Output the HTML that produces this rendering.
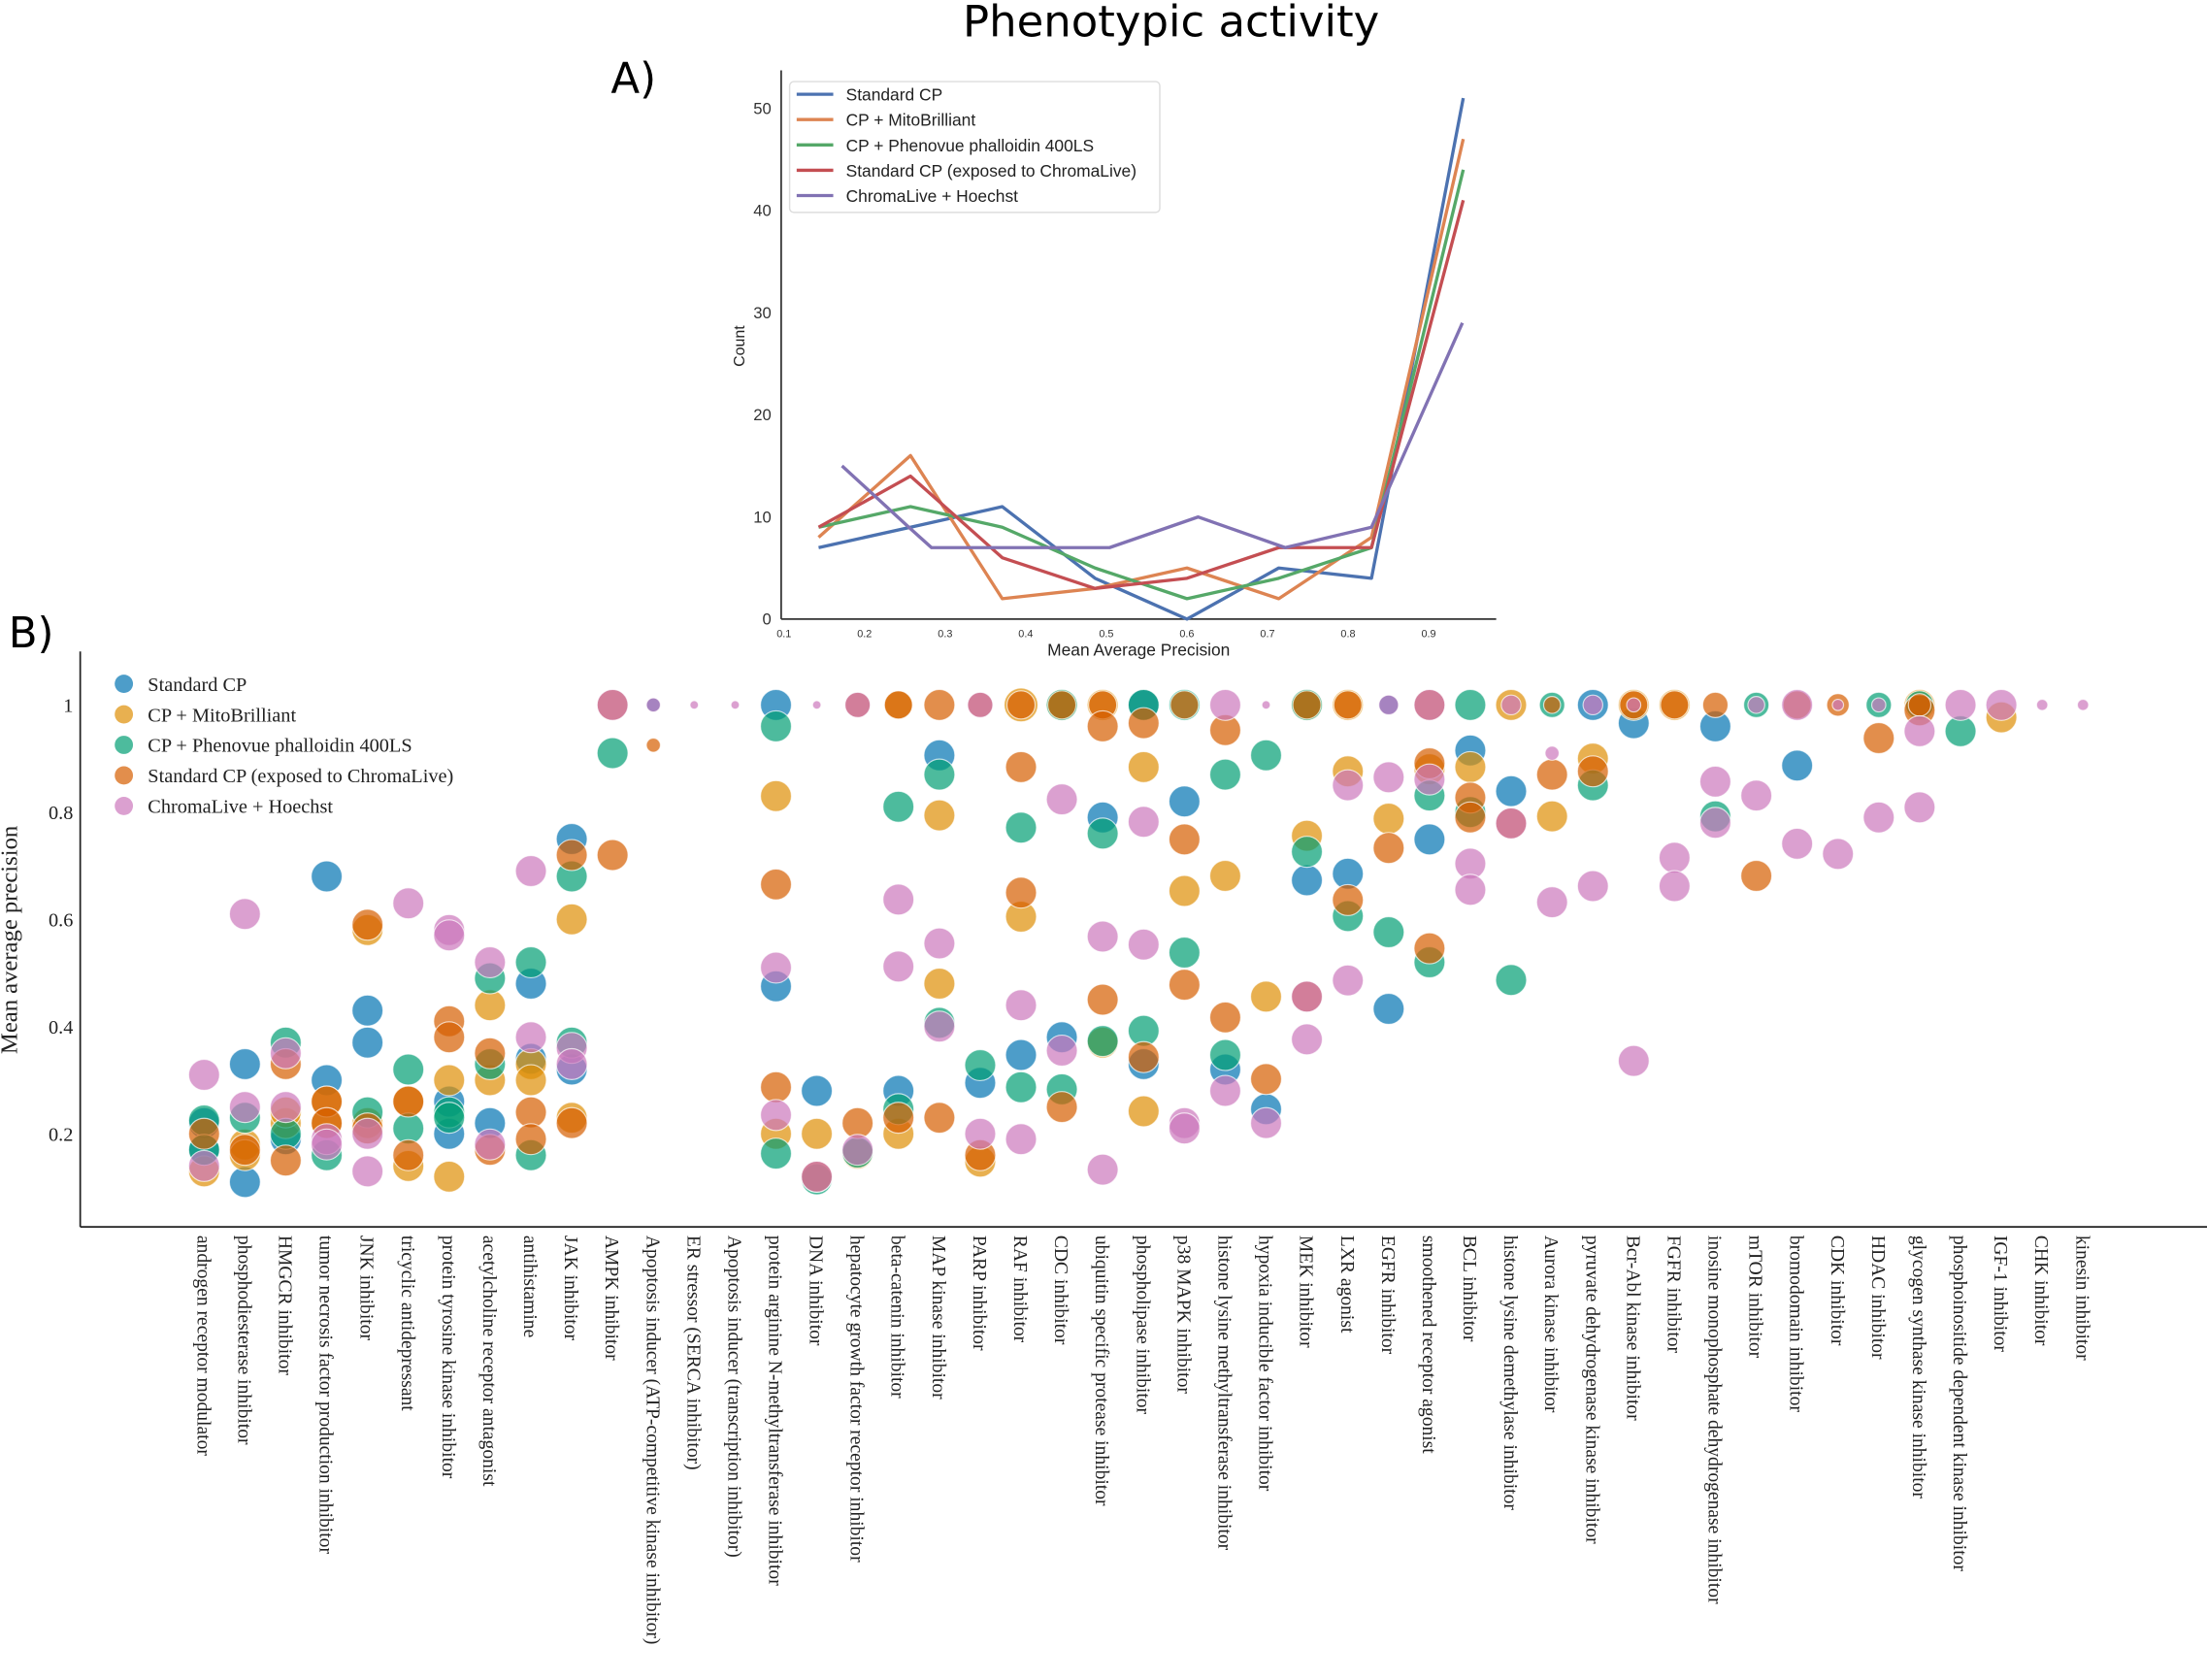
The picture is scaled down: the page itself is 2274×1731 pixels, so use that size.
<!DOCTYPE html>
<html><head><meta charset="utf-8"><style>
html,body{margin:0;padding:0;background:#fff}
svg{display:block}
</style></head><body>
<svg id="fig" xmlns="http://www.w3.org/2000/svg" width="2274" height="1731" viewBox="0 0 1568 1194" preserveAspectRatio="none">
<text x="832" y="26" text-anchor="middle" font-family="DejaVu Sans, sans-serif" font-size="31">Phenotypic activity</text>
<text x="434" y="66" font-family="DejaVu Sans, sans-serif" font-size="30">A)</text>
<text x="6" y="460" font-family="DejaVu Sans, sans-serif" font-size="30">B)</text>
<g id="lineChart"></g>
<g id="scatterChart"></g>
</svg>
<script>
// ---------- Panel A data ----------
const binCenters = [0.143, 0.257, 0.371, 0.486, 0.6, 0.714, 0.829, 0.943];
const purpleX = [0.172, 0.255, 0.283, 0.504, 0.614, 0.722, 0.829, 0.942];
const countStandard = [7, 9, 11, 4, 0, 5, 4, 51];
const countMito = [8, 16, 2, 3, 5, 2, 8, 47];
const countPhenovue = [9, 11, 9, 5, 2, 4, 7, 44];
const countExposed = [9, 14, 6, 3, 4, 7, 7, 41];
const countChroma = [15, 9, 7, 7, 10, 7, 9, 29];
const lineNames = ["Standard CP", "CP + MitoBrilliant", "CP + Phenovue phalloidin 400LS", "Standard CP (exposed to ChromaLive)", "ChromaLive + Hoechst"];
const lineColors = ["#4c72b0", "#dd8452", "#55a868", "#c44e52", "#8172b3"];
const aYTicks = [0, 10, 20, 30, 40, 50];
const aXTicks = [0.1, 0.2, 0.3, 0.4, 0.5, 0.6, 0.7, 0.8, 0.9];

// ---------- Panel B data ----------
const categories = ["androgen receptor modulator","phosphodiesterase inhibitor","HMGCR inhibitor","tumor necrosis factor production inhibitor","JNK inhibitor","tricyclic antidepressant","protein tyrosine kinase inhibitor","acetylcholine receptor antagonist","antihistamine","JAK inhibitor","AMPK inhibitor","Apoptosis inducer (ATP-competitive kinase inhibitor)","ER stressor (SERCA inhibitor)","Apoptosis inducer (transcription inhibitor)","protein arginine N-methyltransferase inhibitor","DNA inhibitor","hepatocyte growth factor receptor inhibitor","beta-catenin inhibitor","MAP kinase inhibitor","PARP inhibitor","RAF inhibitor","CDC inhibitor","ubiquitin specific protease inhibitor","phospholipase inhibitor","p38 MAPK inhibitor","histone lysine methyltransferase inhibitor","hypoxia inducible factor inhibitor","MEK inhibitor","LXR agonist","EGFR inhibitor","smoothened receptor agonist","BCL inhibitor","histone lysine demethylase inhibitor","Aurora kinase inhibitor","pyruvate dehydrogenase kinase inhibitor","Bcr-Abl kinase inhibitor","FGFR inhibitor","inosine monophosphate dehydrogenase inhibitor","mTOR inhibitor","bromodomain inhibitor","CDK inhibitor","HDAC inhibitor","glycogen synthase kinase inhibitor","phosphoinositide dependent kinase inhibitor","IGF-1 inhibitor","CHK inhibitor","kinesin inhibitor"];
// [categoryIndex, meanAveragePrecision, markerSize]
const pointsStandard = [[0,0.22],[0,0.17],[1,0.33],[1,0.11],[2,0.19],[3,0.68],[3,0.3],[4,0.43],[4,0.37],[6,0.26],[6,0.2],[7,0.22],[8,0.48],[8,0.34],[9,0.75],[9,0.32],[11,1,5],[14,1,11],[14,0.475],[15,0.28],[17,0.28],[18,0.906],[19,0.295],[20,0.347],[21,0.38],[22,0.79],[23,1,11],[23,0.33],[24,0.82],[25,0.32],[26,0.246],[27,0.673],[28,0.685],[29,1,7],[29,0.433],[30,0.749],[31,0.915],[32,0.839],[34,1,11],[35,0.966],[37,0.96],[39,0.887]];
const pointsMito = [[0,0.13],[1,0.18],[1,0.16],[2,0.22],[2,0.24],[3,0.26],[3,0.22],[4,0.58],[4,0.22],[5,0.26],[5,0.14],[6,0.3],[6,0.12],[7,0.44],[7,0.3],[8,0.33],[8,0.3],[9,0.6],[9,0.23],[14,0.83],[14,0.2],[15,0.2],[16,0.163],[17,1,10],[17,0.2],[18,0.794],[18,0.48],[19,0.148],[20,1,12],[20,0.605],[21,1,11],[22,1,11],[22,0.37],[23,0.884],[23,0.242],[24,0.653],[25,0.681],[26,0.456],[27,1,11],[27,0.756],[28,1,11],[28,0.876],[29,0.788],[30,0.88],[31,0.884],[32,1,11],[33,0.792],[34,0.9],[35,1,11],[36,1,11],[42,1,11],[44,0.977]];
const pointsPhenovue = [[0,0.225],[0,0.17],[1,0.23],[2,0.37],[2,0.2],[3,0.16],[4,0.24],[5,0.32],[5,0.21],[6,0.24],[6,0.23],[7,0.49],[7,0.33],[8,0.52],[8,0.16],[9,0.68],[9,0.37],[10,0.91],[14,0.96],[14,0.163],[15,0.115],[16,0.165],[17,0.81],[17,0.246],[18,0.87],[18,0.407],[19,0.328],[20,0.771],[20,0.287],[21,1,11],[21,0.283],[22,0.76],[22,0.373],[23,1,11],[23,0.392],[24,1,11],[24,0.538],[25,0.87],[25,0.347],[26,0.906],[27,1,11],[27,0.726],[28,0.606],[29,0.576],[30,0.831],[30,0.52],[31,1,11],[31,0.8],[32,0.487],[33,1,9],[34,0.85],[37,0.792],[38,1,9],[41,1,9],[42,1,10],[43,0.951]];
const pointsExposed = [[0,0.2],[1,0.17],[2,0.33],[2,0.15],[3,0.26],[3,0.22],[4,0.59],[4,0.21],[5,0.26],[5,0.16],[6,0.41],[6,0.38],[7,0.35],[7,0.17],[8,0.24],[8,0.19],[9,0.72],[9,0.22],[10,1,11],[10,0.72],[11,0.925,5],[14,0.665],[14,0.287],[15,0.12],[16,1,9],[16,0.22],[17,1,10],[17,0.23],[18,1,11],[18,0.23],[19,1,9],[19,0.16],[20,1,10],[20,0.884],[20,0.65],[21,1,10],[21,0.25],[22,1,10],[22,0.96],[22,0.45],[23,0.966],[23,0.343],[24,1,10],[24,0.749],[24,0.478],[25,0.953],[25,0.417],[26,0.302],[27,1,10],[27,0.456],[28,1,10],[28,0.636],[29,0.733],[30,1,11],[30,0.891],[30,0.546],[31,0.827],[31,0.79],[32,0.779],[33,1,6],[33,0.87],[34,0.876],[35,1,10],[36,1,10],[37,1,9],[38,0.681],[39,1,10],[40,1,8],[41,0.938],[42,0.99],[42,1,8]];
const pointsChroma = [[0,0.31],[0,0.14],[1,0.61],[1,0.25],[2,0.35],[2,0.25],[3,0.19],[3,0.18],[4,0.2],[4,0.13],[5,0.63],[6,0.58],[6,0.57],[7,0.52],[7,0.18],[8,0.69],[8,0.38],[9,0.36],[9,0.33],[10,1,11],[11,1,5],[12,1,3],[13,1,3],[14,0.51],[14,0.235],[15,1,3],[15,0.12],[16,1,9],[16,0.17],[17,0.637],[17,0.512],[18,0.555],[18,0.4],[19,1,9],[19,0.2],[20,0.44],[20,0.19],[21,0.824],[21,0.355],[22,0.568],[22,0.133],[23,0.782],[23,0.553],[24,0.22],[24,0.21],[25,1,11],[25,0.28],[26,1,3],[26,0.22],[27,0.456],[27,0.376],[28,0.85],[28,0.486],[29,1,7],[29,0.865],[30,1,11],[30,0.861],[31,0.704],[31,0.655],[32,1,7],[32,0.779],[33,0.91,5],[33,0.632],[34,1,7],[34,0.662],[35,1,5],[35,0.336],[36,0.715],[36,0.662],[37,0.857],[37,0.78],[38,1,6],[38,0.831],[39,1,11],[39,0.741],[40,1,4],[40,0.722],[41,1,5],[41,0.79],[42,0.951],[42,0.809],[43,1,11],[44,1,11],[45,1,4],[46,1,4]];
const scatterSeries = [pointsStandard, pointsMito, pointsPhenovue, pointsExposed, pointsChroma];
const scatterNames = ["Standard CP","CP + MitoBrilliant","CP + Phenovue phalloidin 400LS","Standard CP (exposed to ChromaLive)","ChromaLive + Hoechst"];
const scatterColors = ["#0173b2","#de8f05","#029e73","#d55e00","#cc78bc"];
const bYTicks = [0.2, 0.4, 0.6, 0.8, 1];
const bYTickLabels = ["0.2","0.4","0.6","0.8","1"];

const NS = "http://www.w3.org/2000/svg";
function mk(tag, attrs, parent, txt) {
  const e = document.createElementNS(NS, tag);
  for (const k in attrs) e.setAttribute(k, attrs[k]);
  if (txt !== undefined) e.textContent = txt;
  parent.appendChild(e);
  return e;
}

// ---------- Panel A ----------
(function(){
  const g = document.getElementById("lineChart");
  const ax = v => 557 + (v - 0.1) / 0.1 * 57.25;
  const ay = v => 440 - v * 7.26;
  let el;
  el = mk("line",{x1:555,y1:50,x2:555,y2:440,stroke:"#333","stroke-width":1.2},g);
   
  el = mk("line",{x1:555,y1:440,x2:1063,y2:440,stroke:"#333","stroke-width":1.2},g);
   
  aYTicks.forEach(t => {
    el = mk("text",{x:548,y:ay(t)+4,"text-anchor":"end","font-family":"Liberation Sans, sans-serif","font-size":11.5,fill:"#333"},g,String(t));
     
  });
  aXTicks.forEach(t => {
    el = mk("text",{x:ax(t),y:453,"text-anchor":"middle","font-family":"Liberation Sans, sans-serif","font-size":7.5,fill:"#333"},g,t.toFixed(1));
     
  });
  el = mk("text",{x:809,y:466,"text-anchor":"middle","font-family":"Liberation Sans, sans-serif","font-size":12,fill:"#222"},g,"Mean Average Precision");
   
  el = mk("text",{x:0,y:0,transform:"translate(529,246) rotate(-90)","text-anchor":"middle","font-family":"Liberation Sans, sans-serif","font-size":11,fill:"#222"},g,"Count");
   
  const series = [countStandard,countMito,countPhenovue,countExposed,countChroma];
  series.forEach((s,i) => {
    const xs = i === 4 ? purpleX : binCenters;
    const pts = s.map((v,j) => ax(xs[j]).toFixed(1)+","+ay(v).toFixed(1)).join(" ");
    el = mk("polyline",{points:pts,fill:"none",stroke:lineColors[i],"stroke-width":2.3,"stroke-linejoin":"round"},g);
     
  });
  const lg = mk("g",{},g);
   
  mk("rect",{x:561,y:58,width:263,height:93,rx:3,fill:"#fff",stroke:"#ddd","stroke-width":1},lg);
  lineNames.forEach((n,i) => {
    const y = 67 + i*18;
    el = mk("line",{x1:566,y1:y,x2:592,y2:y,stroke:lineColors[i],"stroke-width":2.3},lg);
     
    el = mk("text",{x:601,y:y+4.5,"font-family":"Liberation Sans, sans-serif","font-size":12,fill:"#222"},lg,n);
     
  });
})();

// ---------- Panel B ----------
(function(){
  const g = document.getElementById("scatterChart");
  const bx = i => 145 + i * 29.02;
  const by = v => 501 + (1 - v) * 381;
  let el;
  el = mk("line",{x1:57,y1:463,x2:57,y2:872,stroke:"#222","stroke-width":1.2},g);
   
  el = mk("line",{x1:57,y1:872,x2:1568,y2:872,stroke:"#222","stroke-width":1.2},g);
   
  bYTicks.forEach((t,i) => {
    el = mk("text",{x:52,y:by(t)+5,"text-anchor":"end","font-family":"Liberation Serif, serif","font-size":14,fill:"#222"},g,bYTickLabels[i]);
     
  });
  el = mk("text",{x:0,y:0,transform:"translate(12,668) rotate(-90)","text-anchor":"middle","font-family":"Liberation Serif, serif","font-size":17,fill:"#222"},g,"Mean average precision");
   
  categories.forEach((c,i) => {
    el = mk("text",{x:0,y:0,transform:"translate("+(bx(i)-1).toFixed(1)+",878) rotate(90)","dominant-baseline":"central","font-family":"Liberation Serif, serif","font-size":13.5,fill:"#222"},g,c);
     
  });
  scatterSeries.forEach((s,si) => {
    s.forEach(p => {
      const r = p.length > 2 ? p[2] : 11;
      el = mk("circle",{cx:bx(p[0]).toFixed(1),cy:by(p[1]).toFixed(1),r:r,fill:scatterColors[si],"fill-opacity":0.7,stroke:"#fff","stroke-width":0.8,"stroke-opacity":0.7},g);
       
    });
  });
  const lg = mk("g",{},g);
   
  scatterNames.forEach((n,i) => {
    const y = 486 + i*21.7;
    el = mk("circle",{cx:88,cy:y,r:6.5,fill:scatterColors[i],"fill-opacity":0.7},lg);
     
    el = mk("text",{x:105,y:y+5,"font-family":"Liberation Serif, serif","font-size":14,fill:"#222"},lg,n);
     
  });
})();
</script>
</body></html>
